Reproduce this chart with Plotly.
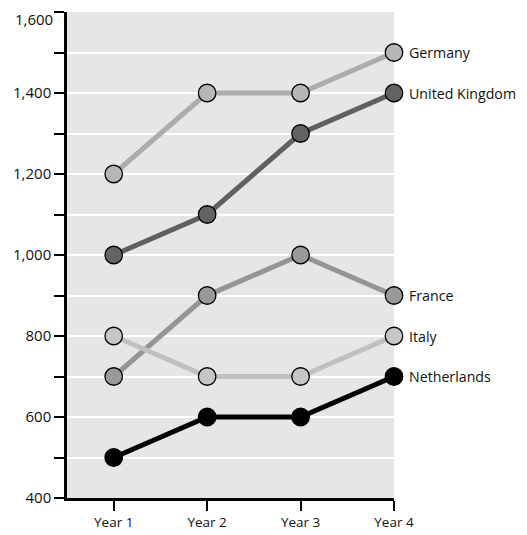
import plotly.graph_objects as go

years = ["Year 1", "Year 2", "Year 3", "Year 4"]
countries = ["Germany", "United Kingdom", "France", "Italy", "Netherlands"]
germany = [1200, 1400, 1400, 1500]
uk = [1000, 1100, 1300, 1400]
france = [700, 900, 1000, 900]
italy = [800, 700, 700, 800]
netherlands = [500, 600, 600, 700]
y_tick_vals = [400, 500, 600, 700, 800, 900, 1000, 1100, 1200, 1300, 1400, 1500, 1600]
y_tick_text = ["400", "", "600", "", "800", "", "1,000", "", "1,200", "", "1,400", "", ""]
top_label_value = 1600
top_label_text = "1,600"

series = [germany, uk, france, italy, netherlands]
line_colors = ["#acacac", "#606060", "#959595", "#c0c0c0", "#000000"]
marker_colors = ["#b6b6b6", "#636363", "#999999", "#c6c6c6", "#000000"]

xpos = [1, 2, 3, 4]
fig = go.Figure()
for name, vals, lc, mc in zip(countries, series, line_colors, marker_colors):
    fig.add_trace(go.Scatter(
        x=xpos, y=vals, mode="lines+markers", name=name,
        line=dict(color=lc, width=5),
        marker=dict(size=17.5, color=mc, line=dict(color="#000000", width=1.3)),
        cliponaxis=False,
    ))
    fig.add_annotation(x=4, y=vals[-1], text=name, showarrow=False,
                       xanchor="left", yanchor="middle", xshift=13,
                       font=dict(size=14.2, color="#111111", family="Open Sans"))

# top tick label placed just inside the page so it is not cut off
fig.add_annotation(xref="paper", x=0, y=top_label_value, text=top_label_text,
                   showarrow=False, xanchor="right", yanchor="top",
                   xshift=-12, yshift=5,
                   font=dict(size=15, color="#111111", family="Open Sans"))

fig.update_layout(
    width=519, height=527,
    margin=dict(l=59, r=133, t=4, b=37, autoexpand=False),
    plot_bgcolor="#e6e6e8", paper_bgcolor="#ffffff",
    showlegend=False,
    font=dict(family="Open Sans", size=14, color="#111111"),
)
fig.update_xaxes(
    range=[0.5, 4], tickvals=xpos, ticktext=years, automargin=False,
    showgrid=False, zeroline=False,
    showline=True, linecolor="#000000", linewidth=2.5,
    ticks="outside", ticklen=10, tickwidth=2, tickcolor="#000000",
    tickfont=dict(size=13.5),
)
fig.update_yaxes(
    range=[400, 1600], tickvals=y_tick_vals, ticktext=y_tick_text, automargin=False,
    showgrid=True, gridcolor="#ffffff", gridwidth=2, zeroline=False,
    showline=True, linecolor="#000000", linewidth=2.5,
    ticks="outside", ticklen=10, tickwidth=2, tickcolor="#000000",
    tickfont=dict(size=15),
)
fig.write_html("out.html")
